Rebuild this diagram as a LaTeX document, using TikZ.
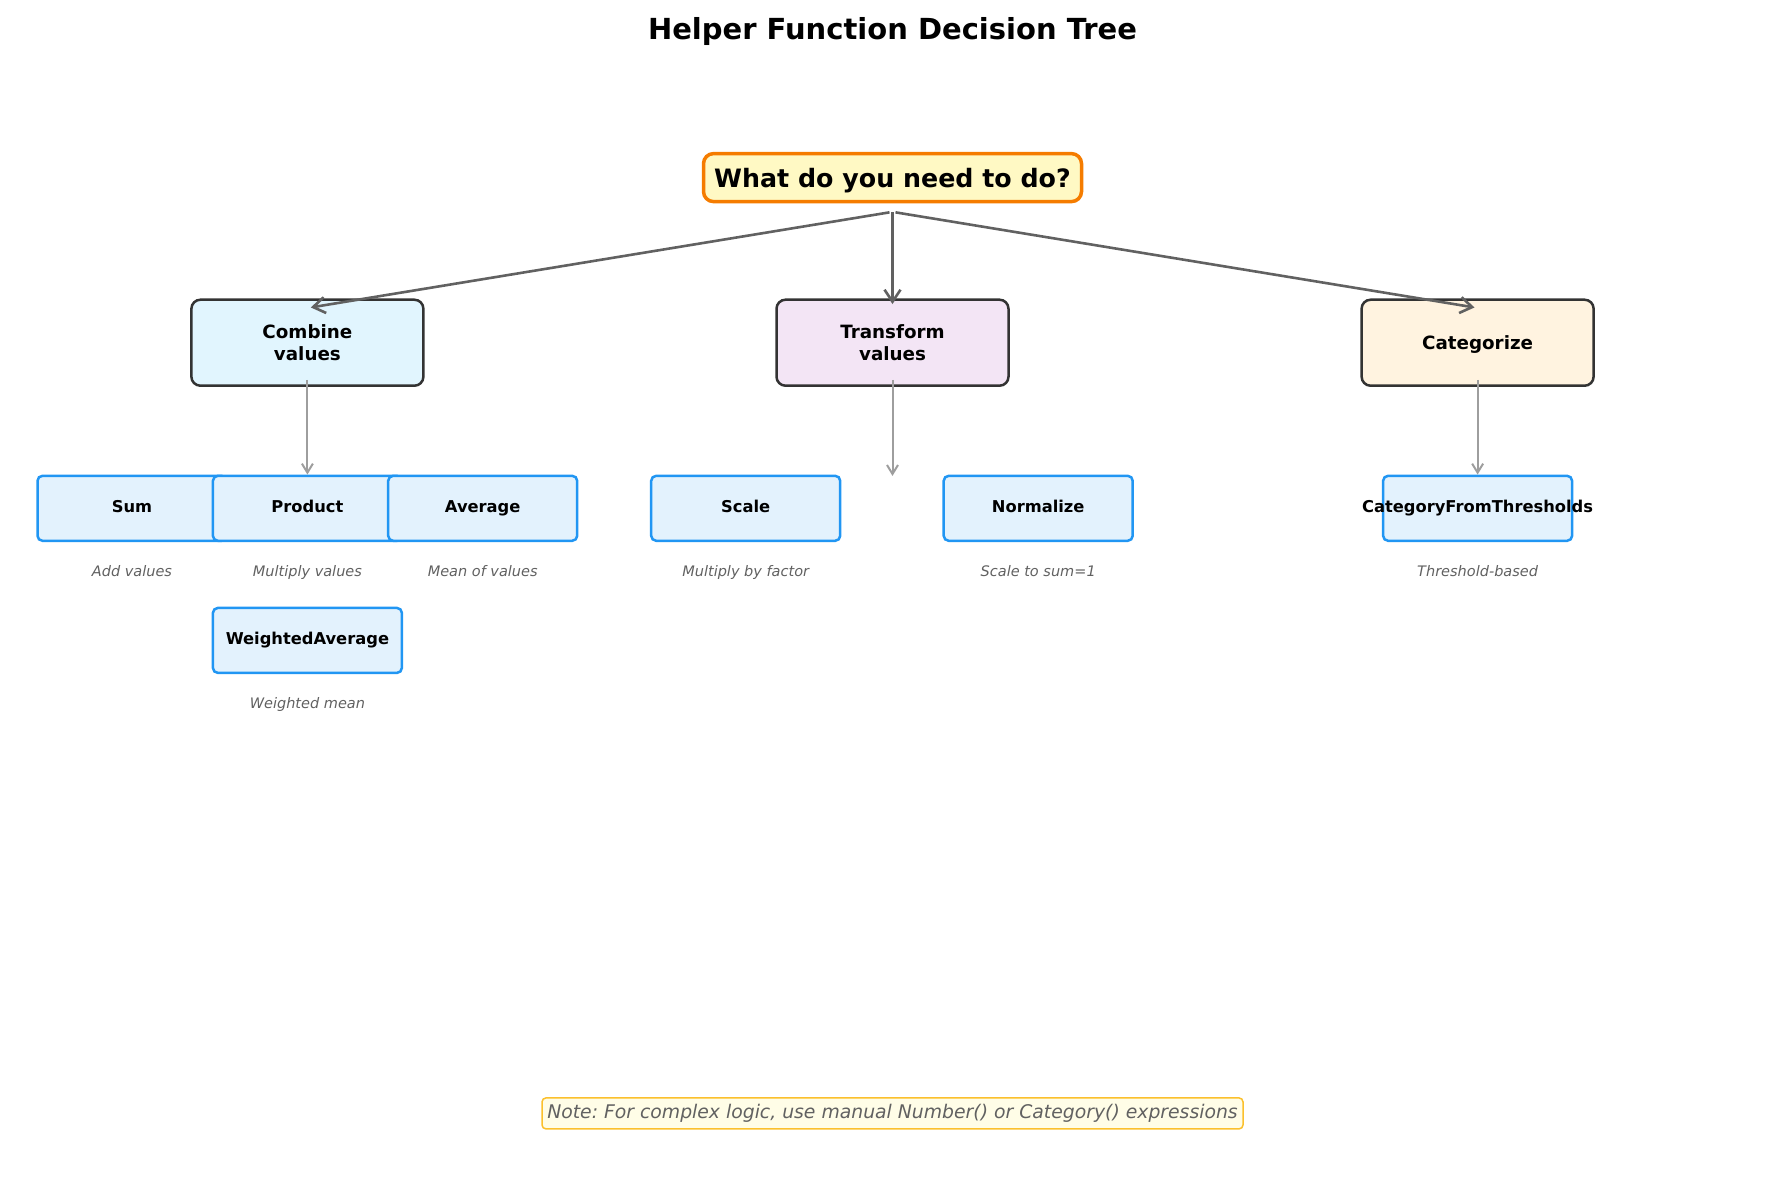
\documentclass[tikz,border=0pt]{standalone}
\usepackage{fontspec}
\setmainfont{DejaVu Sans}
\usetikzlibrary{arrows.meta}
\definecolor{rootfill}{HTML}{FFF9C4}
\definecolor{rootedge}{HTML}{F57C00}
\definecolor{combfill}{HTML}{E1F5FE}
\definecolor{transfill}{HTML}{F3E5F5}
\definecolor{catfill}{HTML}{FFF3E0}
\definecolor{choiceedge}{HTML}{333333}
\definecolor{helperfill}{HTML}{E3F2FD}
\definecolor{helperedge}{HTML}{2196F3}
\definecolor{hintgray}{HTML}{616161}
\definecolor{bigarrowgray}{HTML}{616161}
\definecolor{smallarrowgray}{HTML}{9E9E9E}
\definecolor{notefill}{HTML}{FFFDE7}
\definecolor{noteedge}{HTML}{FBC02D}
\frenchspacing
\begin{document}
\begin{tikzpicture}[x=1pt, y=-1pt, align=center,
	root/.style={draw=rootedge, fill=rootfill, line width=3.5pt, rounded corners=10pt, minimum width=378pt, minimum height=48pt, text depth=0pt, font=\fontsize{25.3}{30}\selectfont\bfseries},
	choice/.style={draw=choiceedge, line width=2.5pt, rounded corners=9pt, minimum width=232pt, minimum height=86pt, font=\fontsize{18.3}{22}\selectfont\bfseries},
	helper/.style={draw=helperedge, fill=helperfill, line width=2.5pt, rounded corners=5pt, minimum width=189pt, minimum height=65pt, text height=0.76em, text depth=0pt, font=\fontsize{16.3}{19}\selectfont\bfseries},
	hint/.style={text=hintgray, text depth=0pt, font=\fontsize{14.5}{17}\selectfont\itshape},
	bigarrow/.style={-{Straight Barb[length=12pt,width=16pt]}, draw=bigarrowgray, line width=2.6pt},
	smallarrow/.style={-{Straight Barb[length=9pt,width=11pt]}, draw=smallarrowgray, line width=2pt}]
	\useasboundingbox (0,0) rectangle (1785,1184);
	\node[text depth=0pt, font=\fontsize{29}{34}\selectfont\bfseries] (title) at (892.5,28) {Helper Function Decision Tree};
	
	\node[root] (root) at (892.5,177.6) {What do you need to do?};
	\node[choice, fill=combfill] (comb) at (307.4,342.7) {Combine\\values};
	\node[choice, fill=transfill] (trans) at (892.5,342.7) {Transform\\values};
	\node[choice, fill=catfill, text depth=0pt] (cat) at (1477.6,342.7) {Categorize};
	
	\draw[bigarrow] ([xshift=-3pt,yshift=-9pt]root.south) -- ([xshift=3.4pt,yshift=-9pt]comb.north);
	\draw[bigarrow] ([yshift=-9pt]root.south) -- ([yshift=-5.6pt]trans.north);
	\draw[bigarrow] ([xshift=3pt,yshift=-9pt]root.south) -- ([xshift=-3.1pt,yshift=-9pt]cat.north);
	
	% helpers
	\node[helper] (sum) at (132,508.3) {Sum};
	\node[helper] (prod) at (307.4,508.3) {Product};
	\node[helper] (avg) at (482.7,508.3) {Average};
	\node[helper] (scale) at (745.7,508.3) {Scale};
	\node[helper] (norm) at (1038.2,508.3) {Normalize};
	\node[helper, label={[text height=0.76em, text depth=0pt, font=\fontsize{16.3}{19}\selectfont\bfseries]center:CategoryFromThresholds}] (cft) at (1477.6,508.3) {};
	\node[helper] (wavg) at (307.4,640.4) {WeightedAverage};
	
	\node[hint] (sumhint) at (132,571) {Add values};
	\node[hint] (prodhint) at (307.4,571) {Multiply values};
	\node[hint] (avghint) at (482.7,571) {Mean of values};
	\node[hint] (scalehint) at (745.7,571) {Multiply by factor};
	\node[hint] (normhint) at (1038.2,571) {Scale to sum=1};
	\node[hint] (cfthint) at (1477.6,571) {Threshold-based};
	\node[hint] (wavghint) at (307.4,703) {Weighted mean};
	
	\coordinate (transend) at (892.5,475.9);
	\draw[smallarrow] ([yshift=7pt]comb.south) -- (prod.north);
	\draw[smallarrow] ([yshift=7pt]trans.south) -- (transend);
	\draw[smallarrow] ([yshift=7pt]cat.south) -- (cft.north);
	
	\node[draw=noteedge, fill=notefill, line width=1.5pt, rounded corners=4pt, minimum width=701pt, minimum height=31pt, text=hintgray, font=\fontsize{18.8}{22}\selectfont\itshape] (note) at (892.5,1113.4) {Note: For complex logic, use manual Number() or Category() expressions};
\end{tikzpicture}
\end{document}
